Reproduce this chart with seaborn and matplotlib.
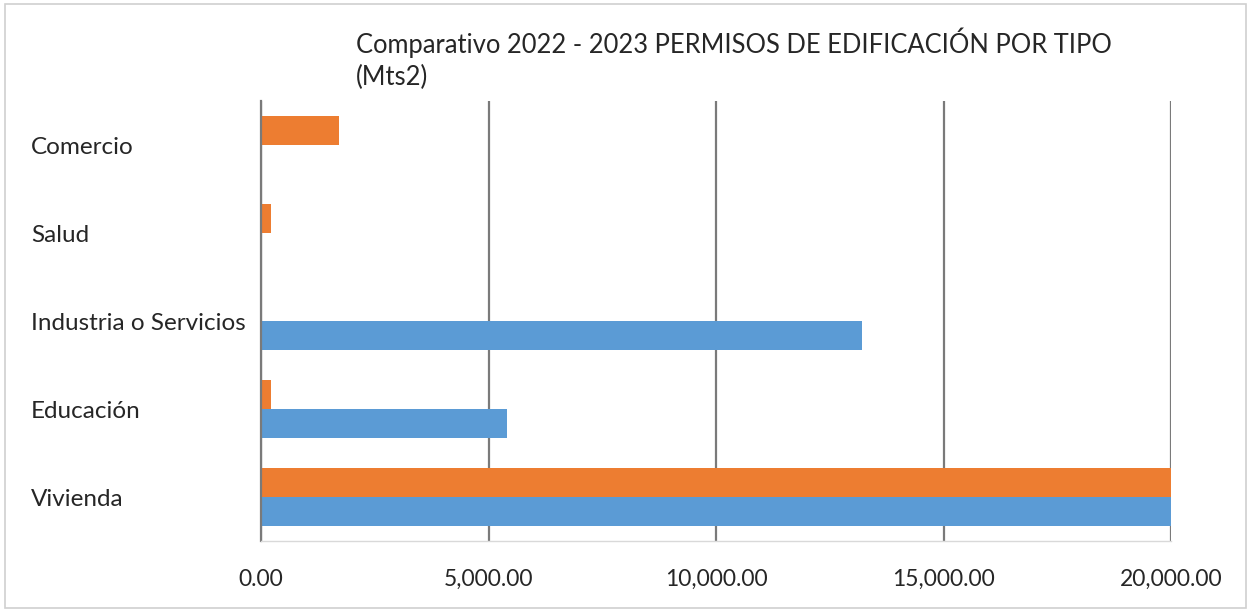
import matplotlib
matplotlib.use("Agg")
import matplotlib.pyplot as plt
import seaborn as sns
import pandas as pd
from matplotlib.ticker import FuncFormatter
from matplotlib.patches import Rectangle

categories = ["Comercio", "Salud", "Industria o Servicios", "Educación", "Vivienda"]
series_names = ["2023", "2022"]
values_2023 = [1714, 220, 0, 220, 27000]
values_2022 = [0, 0, 13209, 5407, 31000]
x_ticks = [0, 5000, 10000, 15000, 20000]
title = "Comparativo 2022 - 2023 PERMISOS DE EDIFICACIÓN POR TIPO\n(Mts2)"

sns.set_theme(style="white")
plt.rcParams['font.family'] = ['Lato', 'DejaVu Sans']

df = pd.DataFrame({
    "cat": categories * 2,
    "serie": [series_names[0]] * len(categories) + [series_names[1]] * len(categories),
    "val": values_2023 + values_2022,
})

fig = plt.figure(figsize=(12.51, 6.12), dpi=100)
ax = fig.add_axes([261/1251, 1-541/612, 910/1251, 440/612])

sns.barplot(data=df, y="cat", x="val", hue="serie", order=categories,
            hue_order=series_names, palette=["#ED7D31", "#5B9BD5"],
            orient="h", width=0.66, gap=0, saturation=1, ax=ax, legend=False,
            errorbar=None, linewidth=0)

ax.set_xlim(0, 20000)
ax.set_xticks(x_ticks)
ax.xaxis.set_major_formatter(FuncFormatter(lambda v, p: f"{v:,.2f}"))
ax.grid(axis="x", color="#7a7a7a", linewidth=1.6)
ax.grid(axis="y", visible=False)
ax.set_axisbelow(True)
ax.set_xlabel("")
ax.set_ylabel("")

for s in ["top", "right"]:
    ax.spines[s].set_visible(False)
ax.spines["left"].set_color("#7a7a7a")
ax.spines["left"].set_linewidth(1.6)
ax.spines["bottom"].set_color("#d9d9d9")
ax.spines["bottom"].set_linewidth(1)

ax.tick_params(axis="x", length=0, colors="#262626", labelsize=16.5, pad=20)
ax.tick_params(axis="y", length=0, colors="#262626", labelsize=17.5, pad=230 * 0.72)
for lab in ax.get_yticklabels():
    lab.set_ha("left")
    lab.set_va("center_baseline")

fig.text(356/1251, 1-27/612, title, ha="left", va="top", fontsize=18.4,
         color="#262626", linespacing=1.35)

fig.patches.append(Rectangle((5/1251, 4/612), 1241/1251, 604/612, transform=fig.transFigure,
                             fill=False, edgecolor="#d0d0d0", linewidth=1.2))

fig.savefig("out.png", dpi=100, facecolor="white")
